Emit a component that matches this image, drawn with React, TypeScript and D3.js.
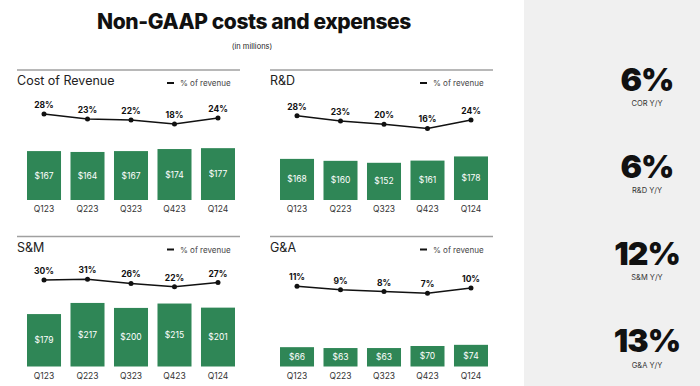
import React from 'react';
import * as d3 from 'd3';

const quarters = ['Q123', 'Q223', 'Q323', 'Q423', 'Q124'];
const panelTitles = ['Cost of Revenue', 'R&D', 'S&M', 'G&A'];

const corValues = [167, 164, 167, 174, 177];
const corPct = [28, 23, 22, 18, 24];
const rdValues = [168, 160, 152, 161, 178];
const rdPct = [28, 23, 20, 16, 24];
const smValues = [179, 217, 200, 215, 201];
const smPct = [30, 31, 26, 22, 27];
const gaValues = [66, 63, 63, 70, 74];
const gaPct = [11, 9, 8, 7, 10];

const yoyValues = [6, 6, 12, 13];
const yoyLabels = ['COR Y/Y', 'R&D Y/Y', 'S&M Y/Y', 'G&A Y/Y'];

// axis domains per panel (each chart had its own auto scale)
const barMax = [239, 286, 239, 239];
const pctDomains: [number, number][] = [[12, 32], [14.5, 33.5], [10.4, 34.2], [5.2, 16.6]];

const FONT = 'Inter, "Noto Sans", sans-serif';
const GREEN = '#2f8656';

const W = 700;
const H = 386;
const panelW = 223;
const origins = [
  { x: 17, y: 70 },
  { x: 270, y: 70 },
  { x: 17, y: 236.5 },
  { x: 270, y: 236.5 },
];

interface PanelProps {
  title: string;
  values: number[];
  pct: number[];
  x0: number;
  y0: number;
  max: number;
  pctDomain: [number, number];
}

const Panel: React.FC<PanelProps> = ({ title, values, pct, x0, y0, max, pctDomain }) => {
  const xScale = d3
    .scaleBand<string>()
    .domain(quarters)
    .range([x0 + 10, x0 + 218])
    .paddingInner(0.218)
    .paddingOuter(0);

  const baseY = y0 + 130;
  const yBar = d3.scaleLinear().domain([0, max]).range([baseY, baseY - 70]);
  const yPct = d3.scaleLinear().domain(pctDomain).range([y0 + 60, y0 + 40]);

  const cx = (i: number) => (xScale(quarters[i]) as number) + xScale.bandwidth() / 2;

  const line = d3
    .line<number>()
    .x((_, i) => cx(i))
    .y((d) => yPct(d));

  return (
    <g>
      <line x1={x0} x2={x0 + panelW} y1={y0} y2={y0} stroke="#a0a0a0" strokeWidth={1.5} />
      <text x={x0} y={y0 + 15} fontSize={12.5} fill="#222" fontFamily={FONT}>
        {title}
      </text>
      <line x1={x0 + 150} x2={x0 + 157} y1={y0 + 13} y2={y0 + 13} stroke="#111" strokeWidth={2} />
      <text x={x0 + 163} y={y0 + 16} fontSize={8} fill="#444" fontFamily={FONT}>
        % of revenue
      </text>

      {values.map((v, i) => (
        <g key={quarters[i]}>
          <rect
            x={xScale(quarters[i])}
            y={yBar(v)}
            width={xScale.bandwidth()}
            height={baseY - yBar(v)}
            fill={GREEN}
          />
          <text
            x={cx(i)}
            y={(yBar(v) + baseY) / 2 + 3}
            textAnchor="middle"
            fontSize={8.5}
            fill="#fff"
            fontFamily={FONT}
          >
            {`$${v}`}
          </text>
          <text
            x={cx(i)}
            y={baseY + 12}
            textAnchor="middle"
            fontSize={8.5}
            fill="#333"
            fontFamily={FONT}
          >
            {quarters[i]}
          </text>
        </g>
      ))}

      <path d={line(pct) || ''} fill="none" stroke="#111" strokeWidth={1.5} />
      {pct.map((p, i) => (
        <g key={'p' + i}>
          <circle cx={cx(i)} cy={yPct(p)} r={2.5} fill="#111" />
          <text
            x={cx(i)}
            y={yPct(p) - 6}
            textAnchor="middle"
            fontSize={8.5}
            fontWeight={700}
            fill="#111"
            fontFamily={FONT}
          >
            {`${p}%`}
          </text>
        </g>
      ))}
    </g>
  );
};

const App: React.FC = () => {
  const allValues = [corValues, rdValues, smValues, gaValues];
  const allPct = [corPct, rdPct, smPct, gaPct];
  const yoyY = d3.scalePoint<number>().domain([0, 1, 2, 3]).range([90.5, 352]);

  return (
    <div style={{ position: 'absolute', left: 0, top: 0 }}>
      <svg width={W} height={H} style={{ display: 'block', background: '#fff' }}>
        <text
          x={254}
          y={29}
          textAnchor="middle"
          fontSize={21}
          fontWeight={800}
          fill="#111"
          letterSpacing={-0.4}
          fontFamily={FONT}
        >
          Non-GAAP costs and expenses
        </text>
        <text x={252} y={49} textAnchor="middle" fontSize={7.5} fill="#222" fontFamily={FONT}>
          (in millions)
        </text>

        {panelTitles.map((t, i) => (
          <Panel
            key={t}
            title={t}
            values={allValues[i]}
            pct={allPct[i]}
            x0={origins[i].x}
            y0={origins[i].y}
            max={barMax[i]}
            pctDomain={pctDomains[i]}
          />
        ))}

        <rect x={524} y={0} width={W - 524} height={H} fill="#f0f0f0" />
        {yoyValues.map((v, i) => (
          <g key={yoyLabels[i]}>
            <text
              x={647}
              y={yoyY(i)}
              textAnchor="middle"
              fontSize={32}
              fontWeight={900}
              fill="#111"
              letterSpacing={-1}
              fontFamily={FONT}
            >
              {`${v}%`}
            </text>
            <text
              x={647}
              y={(yoyY(i) as number) + 15.5}
              textAnchor="middle"
              fontSize={7.5}
              fill="#333"
              fontFamily={FONT}
            >
              {yoyLabels[i]}
            </text>
          </g>
        ))}
      </svg>
    </div>
  );
};

export default App;
